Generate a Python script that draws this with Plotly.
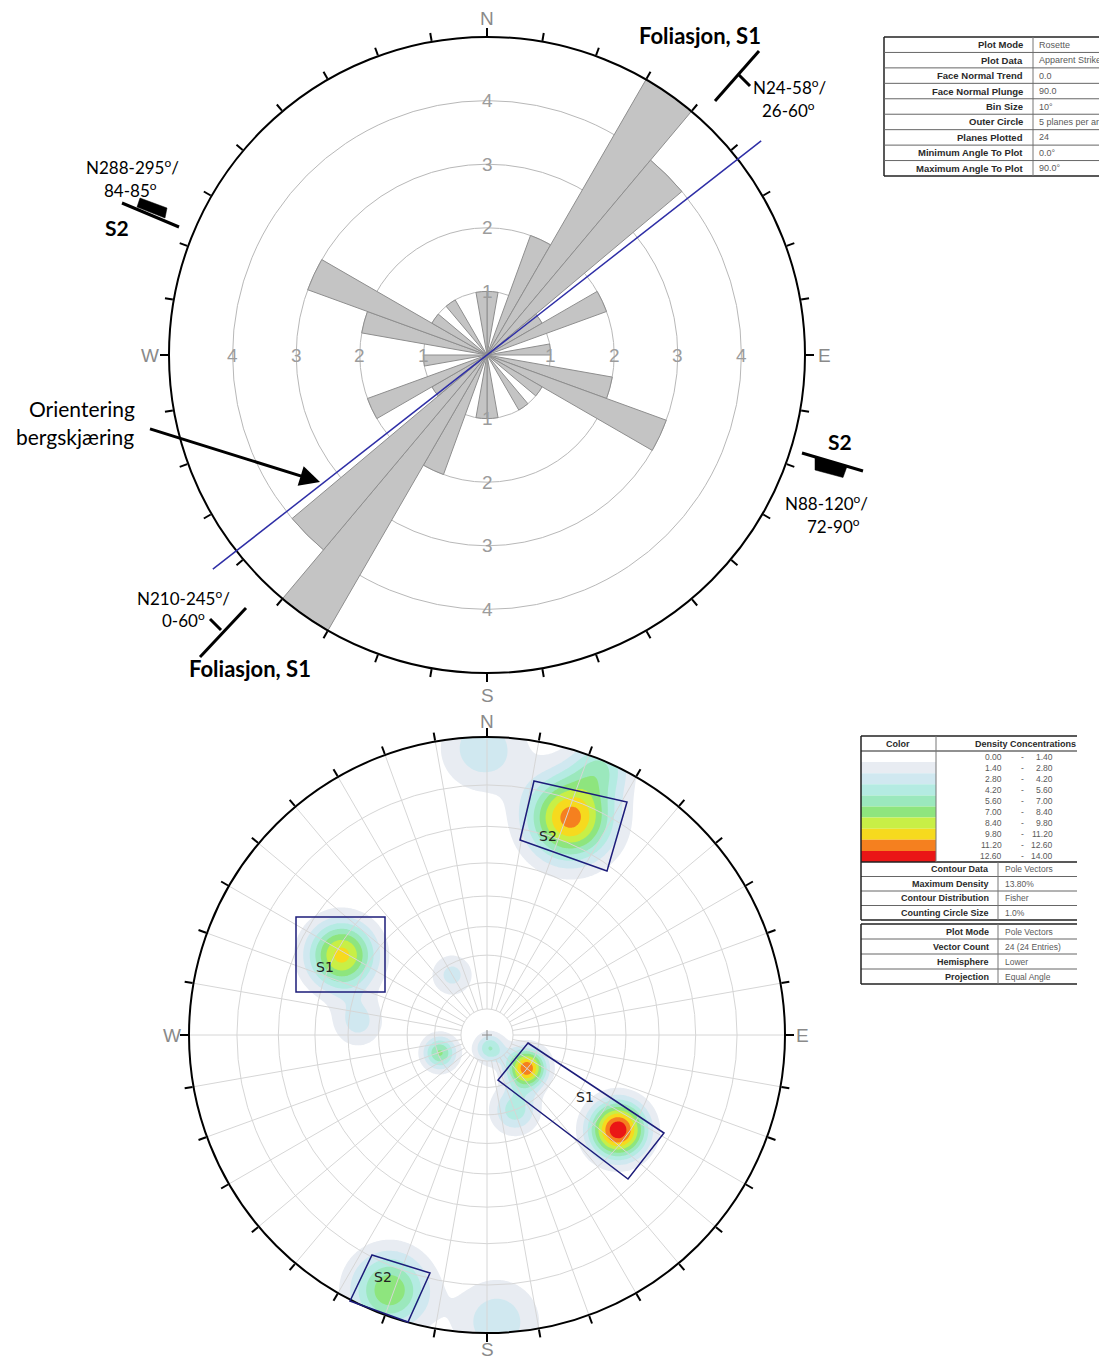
import math
import numpy as np
import plotly.graph_objects as go

W, H = 1107, 1360
OFF = 8  # page body margin: figure starts 8px from the window corner

# ---------------- data ----------------
# Rose diagram (apparent strike, 10 degree bins, bidirectional)
rose_bin_start = list(range(0, 180, 10))
rose_counts = [1, 0, 2, 5, 4, 1, 2, 0, 1, 0, 2, 3, 1, 0, 1, 0, 0, 1]
rose_rings = [1, 2, 3, 4]
rose_outer = 5
bin_size = 10

# orientation of the rock cut (trend of the line) and its drawn extent (rose units)
cut_trend = 52.0
cut_extent = 5.47

compass_angles = [0, 90, 180, 270]
compass_text = ["N", "E", "S", "W"]

# Pole concentrations read from the stereonet (trend, plunge, peak density %, spread)
pole_trend = [359.2, 23.0, 21.0, 298.8, 329.8, 275.8, 249.2, 167.2, 129.6, 159.5, 125.9, 200.9, 178.0]
pole_plunge = [2.2, 1.0, 14.1, 31.8, 63.8, 43.0, 70.8, 84.8, 70.3, 59.9, 33.0, 5.0, 2.1]
pole_peak = [3.8, 4.6, 11.8, 10.3, 3.3, 3.3, 7.2, 5.6, 12.3, 5.0, 13.8, 8.2, 3.8]
pole_spread = [0.10, 0.07, 0.10, 0.08, 0.05, 0.06, 0.04, 0.035, 0.045, 0.055, 0.066, 0.09, 0.10]

plunge_rings = [10, 20, 30, 40, 50, 60, 70, 80]

density_levels = [0.0, 1.4, 2.8, 4.2, 5.6, 7.0, 8.4, 9.8, 11.2, 12.6, 14.0]
density_colors = ["#ffffff", "#e8ecf2", "#d0e8f0", "#b4ebe2", "#9be8bd", "#8ee57e",
                  "#c8ef46", "#f6da1e", "#f5801f", "#ea1616"]

rose_table_labels = ["Plot Mode", "Plot Data", "Face Normal Trend", "Face Normal Plunge", "Bin Size",
                     "Outer Circle", "Planes Plotted", "Minimum Angle To Plot", "Maximum Angle To Plot"]
rose_table_values = ["Rosette", "Apparent Strike", "0.0", "90.0", "10°", "5 planes per arc", "24", "0.0°", "90.0°"]

dens_table_labels = ["Contour Data", "Maximum Density", "Contour Distribution", "Counting Circle Size"]
dens_table_values = ["Pole Vectors", "13.80%", "Fisher", "1.0%"]

plot_table_labels = ["Plot Mode", "Vector Count", "Hemisphere", "Projection"]
plot_table_values = ["Pole Vectors", "24 (24 Entries)", "Lower", "Equal Angle"]

# ---------------- layout geometry (window pixels) ----------------
cx1, cy1, R1 = 487, 355, 318
cx2, cy2, R2 = 487, 1035, 298


def dom(cx, cy, R):
    return dict(x=[(cx - R - OFF) / W, (cx + R - OFF) / W],
                y=[1 - (cy + R - OFF) / H, 1 - (cy - R - OFF) / H])


fig = go.Figure()

# ---------------- stereonet density contours (cartesian overlay, px coords) ----------------
n = 461
u = np.linspace(-1, 1, n)
xpx = cx2 + R2 * u
ypx = np.linspace(cy2 - R2, cy2 + R2, n)
v = (cy2 - ypx) / R2
U, V = np.meshgrid(u, v)
Z = np.zeros_like(U)
for tr, pl, pk, sg in zip(pole_trend, pole_plunge, pole_peak, pole_spread):
    rr = math.tan(math.radians((90 - pl) / 2))
    u0 = rr * math.sin(math.radians(tr))
    v0 = rr * math.cos(math.radians(tr))
    Z += pk * np.exp(-((U - u0) ** 2 + (V - v0) ** 2) / (2 * sg ** 2))
Z[U ** 2 + V ** 2 > 1] = 0

cscale = [[i / 10, c] for i, c in enumerate(density_colors + [density_colors[-1]])]
fig.add_trace(go.Contour(
    x=xpx, y=ypx, z=Z, xaxis="x", yaxis="y",
    contours=dict(start=density_levels[1], end=density_levels[-1], size=density_levels[1] - density_levels[0],
                  coloring="fill", showlines=False),
    colorscale=cscale, line=dict(width=0), showscale=False, hoverinfo="skip"))

# ---------------- rose diagram ----------------
theta = [s + bin_size / 2 for s in rose_bin_start] + [s + 180 + bin_size / 2 for s in rose_bin_start]
rvals = rose_counts + rose_counts
fig.add_trace(go.Barpolar(r=rvals, theta=theta, width=[bin_size] * len(theta),
                          marker=dict(color="#c4c4c4", line=dict(color="#8e8e8e", width=1)),
                          subplot="polar", showlegend=False, hoverinfo="skip"))

# ---------------- stereonet grid ----------------
stereo_rings = [math.tan(math.radians((90 - p) / 2)) for p in plunge_rings]
inner = stereo_rings[-1]
sp_r, sp_t = [], []
for t in range(0, 360, 10):
    sp_r += [inner, 1, None]
    sp_t += [t, t, None]
fig.add_trace(go.Scatterpolar(r=sp_r, theta=sp_t, mode="lines", subplot="polar2", connectgaps=False,
                              line=dict(color="#d6d6d6", width=1), showlegend=False, hoverinfo="skip"))

tickvals = list(range(0, 360, 10))


def ang_axis():
    return dict(rotation=90, direction="clockwise", tickmode="array", tickvals=tickvals,
                showticklabels=False,
                ticks="outside", ticklen=8, tickwidth=1.5, tickcolor="black",
                linecolor="black", linewidth=2, showline=True, showgrid=False)


fig.update_layout(
    template="none",
    width=W, height=H, autosize=False,
    margin=dict(l=0, r=0, t=0, b=0),
    paper_bgcolor="white", plot_bgcolor="white",
    showlegend=False,
    xaxis=dict(range=[OFF, W + OFF], domain=[0, 1], visible=False, fixedrange=True),
    yaxis=dict(range=[H + OFF, OFF], domain=[0, 1], visible=False, fixedrange=True),
    polar=dict(domain=dom(cx1, cy1, R1), bgcolor="rgba(0,0,0,0)", bargap=0,
               angularaxis=ang_axis(),
               radialaxis=dict(range=[0, rose_outer], tickvals=rose_rings, showticklabels=False, ticks="",
                               showline=False, showgrid=True, gridcolor="#b8b8b8", gridwidth=1)),
    polar2=dict(domain=dom(cx2, cy2, R2), bgcolor="rgba(0,0,0,0)",
                angularaxis=ang_axis(),
                radialaxis=dict(range=[0, 1], tickvals=stereo_rings, showticklabels=False, ticks="",
                                showline=False, showgrid=True, gridcolor="#d6d6d6", gridwidth=1)),
)

shapes = []
annots = []


def line(x0, y0, x1, y1, color="black", w=1.0):
    shapes.append(dict(type="line", xref="x", yref="y", x0=x0, y0=y0, x1=x1, y1=y1,
                       line=dict(color=color, width=w), layer="above"))


def poly(pts, fill=None, color="black", w=1.0):
    p = "M " + " L ".join(f"{x},{y}" for x, y in pts) + " Z"
    shapes.append(dict(type="path", xref="x", yref="y", path=p, fillcolor=fill if fill else "rgba(0,0,0,0)",
                       line=dict(color=color, width=w), layer="above"))


def txt(x, y, s, size=16, bold=False, color="black", xanchor="center", family="Lato"):
    annots.append(dict(x=x, y=y, xref="x", yref="y", text=f"<b>{s}</b>" if bold else s, showarrow=False,
                       xanchor=xanchor, yanchor="middle", font=dict(size=size, color=color, family=family)))


# compass letters outside both circles
for (cx, cy, R, gap_ns, gap_ew, gap_s) in [(cx1, cy1, R1, 19, 19, 22), (cx2, cy2, R2, 16, 17, 16)]:
    for a, s in zip(compass_angles, compass_text):
        g = gap_ns if a == 0 else (gap_s if a == 180 else gap_ew)
        rad = R + g
        txt(cx + math.sin(math.radians(a)) * rad, cy - math.cos(math.radians(a)) * rad, s,
            size=19, color="#8a8a8a", family="Liberation Sans")

# rose ring labels along N, E, S, W
unit1 = R1 / rose_outer
for a in compass_angles:
    for rg in rose_rings:
        txt(cx1 + math.sin(math.radians(a)) * rg * unit1, cy1 - math.cos(math.radians(a)) * rg * unit1,
            str(rg), size=19, color="#9c9c9c", family="Liberation Sans")

# stereonet centre mark
line(cx2 - 5, cy2, cx2 + 5, cy2, "#8a8a8a", 1)
line(cx2, cy2 - 5, cx2, cy2 + 5, "#8a8a8a", 1)

# rock-cut orientation line
tr = math.radians(cut_trend)
dx = math.sin(tr) * cut_extent * unit1
dy = math.cos(tr) * cut_extent * unit1
line(cx1 - dx, cy1 + dy, cx1 + dx, cy1 - dy, color="#2e2ea6", w=1.5)

# --- annotations top plot ---
deg = "<sup>o</sup>"
txt(700, 35, "Foliasjon, S1", size=22, bold=True)
line(715, 101, 759, 51, w=3)
line(738, 74, 750, 86, w=3)
txt(790, 86, f"N24-58{deg}/", size=17)
txt(788, 109, f"26-60{deg}", size=17)

txt(132, 166, f"N288-295{deg}/", size=17)
txt(130, 189, f"84-85{deg}", size=17)
line(122, 203, 179, 227, w=3)
poly([(137, 207), (140, 198), (167, 208), (165, 218)], fill="black", w=0.5)
txt(117, 227, "S2", size=21, bold=True)

txt(82, 408, "Orientering", size=21)
txt(75, 436, "bergskjæring", size=21)
annots.append(dict(x=320, y=482, ax=147, ay=428, xref="x", yref="y", axref="x", ayref="y", text=" ",
                   showarrow=True, arrowhead=2, arrowsize=1.35, arrowwidth=3, arrowcolor="black", standoff=0))

txt(840, 441, "S2", size=21, bold=True)
line(802, 453, 863, 471, w=3)
poly([(815, 457), (847, 466.5), (843, 477.5), (815, 470)], fill="black", w=0.5)
txt(826, 502, f"N88-120{deg}/", size=17)
txt(833, 525, f"72-90{deg}", size=17)

txt(183, 597, f"N210-245{deg}/", size=17)
txt(183, 619, f"0-60{deg}", size=17)
line(200, 657, 246, 608, w=3)
line(221, 630, 210, 619, w=3)
txt(250, 668, "Foliasjon, S1", size=22, bold=True)

# --- boxes on stereonet ---
navy = "#1c1c7a"
poly([(534, 781), (627, 802), (607, 871), (520, 840)], color=navy, w=1.5)
poly([(296, 917), (385, 917), (385, 992), (296, 992)], color=navy, w=1.5)
poly([(528, 1043), (664, 1133), (628, 1179), (498, 1080)], color=navy, w=1.5)
poly([(372, 1255), (430, 1273), (408, 1322), (350, 1301)], color=navy, w=1.5)
txt(548, 836, "S2", size=14, color="#222", family="DejaVu Sans")
txt(325, 967, "S1", size=14, color="#222", family="DejaVu Sans")
txt(585, 1097, "S1", size=14, color="#222", family="DejaVu Sans")
txt(383, 1277, "S2", size=14, color="#222", family="DejaVu Sans")

# --- tables ---
tf = "Liberation Sans"
lab_c = "#2a2a2a"
val_c = "#5a5a5a"
# rose table
tl, tr_, tt, tb, tdiv = 884, 1112, 37, 176, 1033
rh = (tb - tt) / len(rose_table_labels)
line(tl, tt, tr_, tt, "#222", 1.5)
line(tl, tb, tr_, tb, "#222", 1.5)
line(tl, tt, tl, tb, "#222", 1.5)
line(tdiv, tt, tdiv, tb, "#777", 1)
for k, (lb, vl) in enumerate(zip(rose_table_labels, rose_table_values)):
    if k > 0:
        line(tl, tt + rh * k, tr_, tt + rh * k, "#666", 1)
    yc = tt + rh * (k + 0.5)
    txt(tdiv - 8, yc, lb, size=9.5, bold=True, color=lab_c, xanchor="right", family=tf)
    txt(tdiv + 4, yc, vl, size=9, color=val_c, xanchor="left", family=tf)

# density table
bl, br, bt, bh, bse = 861, 1077, 736, 751, 862
d1, d2 = 936, 998
sh = (bse - bh) / (len(density_levels) - 1)
for i in range(len(density_levels) - 1):
    y0 = bh + sh * i
    shapes.append(dict(type="rect", xref="x", yref="y", x0=bl, x1=d1, y0=y0, y1=y0 + sh,
                       fillcolor=density_colors[i], line=dict(width=0), layer="above"))
    yc = y0 + sh / 2
    txt(1004, yc, f"{density_levels[i]:.2f}", size=8.5, color=val_c, xanchor="right", family=tf)
    txt(1022, yc, "-", size=8.5, color=val_c, family=tf)
    txt(1055, yc, f"{density_levels[i + 1]:.2f}", size=8.5, color=val_c, xanchor="right", family=tf)
line(bl, bt, br, bt, "#222", 1.5)
line(bl, bh, br, bh, "#222", 1.2)
line(bl, bse, br, bse, "#222", 1.5)
line(d1, bt, d1, bse, "#777", 1)
txt(898, 743.5, "Color", size=9, bold=True, color=lab_c, family=tf)
txt(973, 743.5, "Density Concentrations", size=9, bold=True, color=lab_c, xanchor="left", family=tf)
lh = 14.5
for k, (lb, vl) in enumerate(zip(dens_table_labels, dens_table_values)):
    y0 = bse + lh * k
    if k > 0:
        line(bl, y0, br, y0, "#666", 1)
    txt(d2 - 7, y0 + lh / 2, lb, size=9, bold=True, color=lab_c, xanchor="right", family=tf)
    txt(d2 + 5, y0 + lh / 2, vl, size=8.5, color=val_c, xanchor="left", family=tf)
bend = bse + lh * len(dens_table_labels)
line(bl, bend, br, bend, "#222", 1.5)
line(bl, bt, bl, bend, "#222", 1.5)
line(d2, bse, d2, bend, "#777", 1)

t2 = 924
lh2 = 15
for k, (lb, vl) in enumerate(zip(plot_table_labels, plot_table_values)):
    y0 = t2 + lh2 * k
    if k > 0:
        line(bl, y0, br, y0, "#666", 1)
    txt(d2 - 7, y0 + lh2 / 2, lb, size=9, bold=True, color=lab_c, xanchor="right", family=tf)
    txt(d2 + 5, y0 + lh2 / 2, vl, size=8.5, color=val_c, xanchor="left", family=tf)
t2e = t2 + lh2 * len(plot_table_labels)
line(bl, t2, br, t2, "#222", 1.5)
line(bl, t2e, br, t2e, "#222", 1.5)
line(bl, t2, bl, t2e, "#222", 1.5)
line(d2, t2, d2, t2e, "#777", 1)

fig.update_layout(shapes=shapes, annotations=annots)
fig.write_html("out.html")
